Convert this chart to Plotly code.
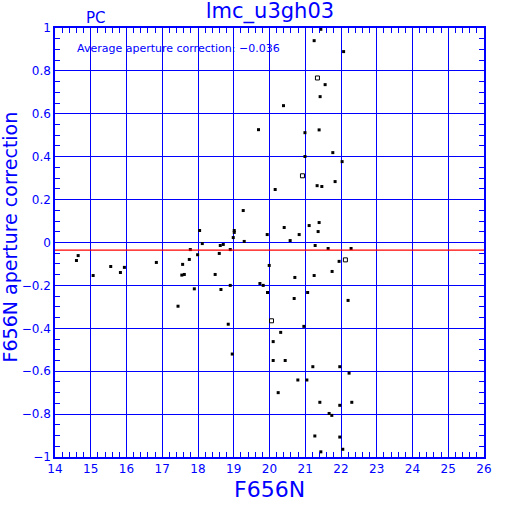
import plotly.graph_objects as go

# filled points (F656N magnitude, aperture correction)
x_filled = [14.648, 14.60, 15.067, 15.559, 15.941, 15.830, 16.835, 17.570, 17.547, 17.617,
            17.757, 17.785, 17.989, 18.045, 18.120, 17.897, 18.48, 18.595, 18.623, 18.707,
            18.902, 19.014, 19.014, 18.986, 19.293, 19.265, 19.936, 19.992, 20.159, 19.693,
            20.391, 20.830, 20.578, 20.411, 21.109, 21.388, 21.360, 21.277, 21.249, 20.709,
            20.992, 21.388, 20.992, 21.332, 21.464, 21.835, 21.436, 21.249, 22.073, 21.556,
            21.416, 21.771, 22.031, 21.640, 22.282, 21.947, 21.751, 21.067, 20.690, 22.198,
            18.902, 18.642, 19.732, 19.824, 19.944, 17.441, 18.846, 20.961, 20.313, 20.103,
            18.958, 20.103, 20.439, 21.212, 21.966, 22.226, 20.793, 21.045, 20.243, 21.408,
            22.302, 21.966, 21.668, 21.743, 21.268, 21.966, 22.050, 21.436]
y_filled = [-0.061, -0.084, -0.154, -0.112, -0.116, -0.140, -0.093, -0.102, -0.152, -0.149,
            -0.079, -0.033, -0.057, 0.056, -0.005, -0.216, -0.149, -0.051, -0.014, -0.009,
            -0.033, 0.056, 0.047, 0.023, 0.005, 0.149, 0.037, -0.107, 0.247, 0.526,
            0.638, 0.037, 0.009, 0.070, 0.079, 0.093, 0.051, -0.014, -0.154, -0.163,
            0.512, 0.525, 0.401, 0.265, 0.261, 0.284, 0.994, 0.941, 0.890, 0.736,
            0.680, 0.419, 0.377, -0.028, -0.028, -0.088, -0.135, -0.233, -0.261, -0.270,
            -0.200, -0.219, -0.191, -0.200, -0.233, -0.297, -0.381, -0.391, -0.419, -0.462,
            -0.520, -0.550, -0.550, -0.579, -0.579, -0.609, -0.641, -0.641, -0.700, -0.745,
            -0.745, -0.759, -0.797, -0.806, -0.902, -0.907, -0.964, -0.976]

# open-square points
x_open = [20.922, 21.341, 22.123, 20.056]
y_open = [0.311, 0.767, -0.081, -0.365]

avg_corr = -0.036

x_range = [14, 26]
y_range = [-1, 1]
x_ticks = list(range(14, 27))
y_ticks = [1, 0.8, 0.6, 0.4, 0.2, 0, -0.2, -0.4, -0.6, -0.8, -1]
y_ticklabels = ["1", "0.8", "0.6", "0.4", "0.2", "0", "\u22120.2", "\u22120.4", "\u22120.6", "\u22120.8", "\u22121"]

BLUE = "#0000ff"
FONT = "DejaVu Sans"

fig = go.Figure()
fig.add_trace(go.Scatter(x=x_filled, y=y_filled, mode="markers",
                         marker=dict(symbol="square", size=3, color="black", line=dict(width=0)),
                         showlegend=False, hoverinfo="skip"))
fig.add_trace(go.Scatter(x=x_open, y=y_open, mode="markers",
                         marker=dict(symbol="square-open", size=4, color="black", line=dict(width=1)),
                         showlegend=False, hoverinfo="skip"))
# empty trace to carry the mirrored tick axes (top / right)
fig.add_trace(go.Scatter(x=[], y=[], xaxis="x2", yaxis="y2", showlegend=False))
fig.add_hline(y=avg_corr, line=dict(color="red", width=1.2))

minor_x = dict(dtick=0.2, ticks="inside", ticklen=5, tickcolor=BLUE, showgrid=False)
minor_y = dict(dtick=0.05, ticks="inside", ticklen=5, tickcolor=BLUE, showgrid=False)

fig.update_layout(
    width=512, height=512,
    margin=dict(l=55, r=28, t=28, b=55, autoexpand=False),
    paper_bgcolor="white", plot_bgcolor="white",
    font=dict(family=FONT, color=BLUE),
    title=dict(text="lmc_u3gh03", xref="paper", x=0.501, xanchor="center",
               yref="container", y=1 - 11 / 512, yanchor="middle",
               font=dict(size=21, color=BLUE, family=FONT), automargin=False),
    xaxis=dict(range=x_range, tickvals=x_ticks, ticktext=[str(v) for v in x_ticks],
               automargin=False,
               showgrid=True, gridcolor=BLUE, gridwidth=1.2,
               showline=True, linecolor=BLUE, linewidth=1.5, mirror=True,
               ticks="inside", ticklen=0, tickcolor=BLUE, minor=minor_x,
               tickfont=dict(size=12, color=BLUE, family=FONT),
               zeroline=False),
    yaxis=dict(range=y_range, tickvals=y_ticks, ticktext=y_ticklabels,
               automargin=False,
               showgrid=True, gridcolor=BLUE, gridwidth=1.2,
               showline=True, linecolor=BLUE, linewidth=1.5, mirror=True,
               ticks="inside", ticklen=0, tickcolor=BLUE, minor=minor_y,
               tickfont=dict(size=12, color=BLUE, family=FONT),
               zeroline=False),
    xaxis2=dict(range=x_range, overlaying="x", side="top", anchor="y2", automargin=False,
                showgrid=False, zeroline=False, showticklabels=False, showline=False,
                tickvals=x_ticks, ticks="inside", ticklen=0, tickcolor=BLUE, minor=minor_x),
    yaxis2=dict(range=y_range, overlaying="y", side="right", anchor="x2", automargin=False,
                showgrid=False, zeroline=False, showticklabels=False, showline=False,
                tickvals=y_ticks, ticks="inside", ticklen=0, tickcolor=BLUE, minor=minor_y),
    annotations=[
        dict(text="PC", xref="paper", yref="paper", x=0.0956, y=1.0233, xanchor="center", yanchor="middle",
             showarrow=False, font=dict(size=15, color=BLUE, family=FONT)),
        dict(text="Average aperture correction: \u22120.036", xref="paper", yref="paper",
             x=0.047, y=0.953, xanchor="left", yanchor="middle",
             showarrow=False, font=dict(size=11, color=BLUE, family=FONT)),
        dict(text="F656N", xref="paper", yref="paper", x=0.501, y=-0.0769,
             xanchor="center", yanchor="middle",
             showarrow=False, font=dict(size=22, color=BLUE, family=FONT)),
        dict(text="F656N aperture correction", xref="paper", yref="paper", x=-0.106, y=0.513,
             xanchor="center", yanchor="middle", textangle=-90,
             showarrow=False, font=dict(size=19, color=BLUE, family=FONT)),
    ],
)

fig.write_html("out.html", config={"displayModeBar": False},
               post_script="document.body.style.margin='0';")
